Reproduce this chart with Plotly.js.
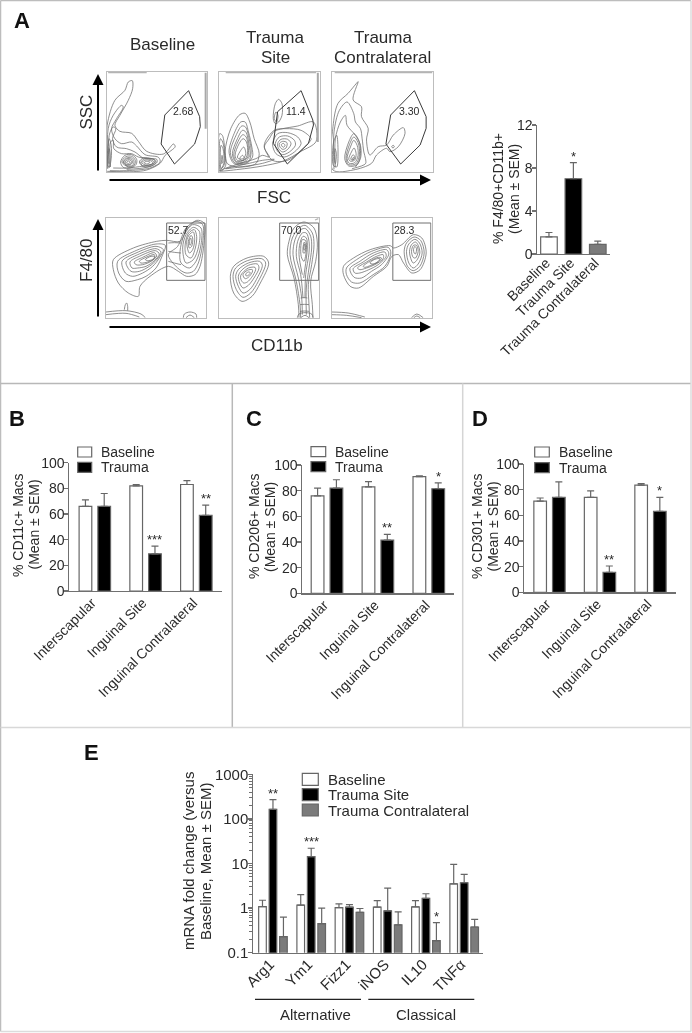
<!DOCTYPE html>
<html><head><meta charset="utf-8">
<script src="https://cdn.plot.ly/plotly-3.0.1.min.js"></script>
<style>html,body{margin:0;padding:0;background:#fff}#chart{filter:blur(0.35px)}</style></head>
<body><div id="chart" style="width:692px;height:1033px"></div>
<script>
// ---------- Bar data ----------
const catsA = ['Baseline','Trauma Site','Trauma Contralateral'];
const valsA = [1.6,7.0,0.9];
const errsA = [0.4,1.5,0.3];
const sigA  = ['','*',''];

const catsSites = ['Interscapular','Inguinal Site','Inguinal Contralateral'];
const baseB = [66,82,83];   const baseErrB = [5,1,3];
const traumaB = [66,29,59]; const traumaErrB = [10,6,8];
const sigB = ['','***','**'];
const baseC = [76,83,91];   const baseErrC = [6,4,0.5];
const traumaC = [82,41.5,81.5]; const traumaErrC = [6.5,4.5,4.5];
const sigC = ['','**','*'];
const baseD = [71,74,83.5]; const baseErrD = [2.5,5,1.2];
const traumaD = [74,15.5,63]; const traumaErrD = [12,5,11];
const sigD = ['','**','*'];

const catsE = ['Arg1','Ym1','Fizz1','iNOS','IL10','TNFα'];
const baseE = [1.08,1.17,1.02,1.05,1.06,3.5];
const baseErrE = [0.42,0.83,0.22,0.42,0.41,6.1];
const siteE = [164,14.2,1.05,0.87,1.66,3.7];
const siteErrE = [106,7.8,0.15,1.93,0.44,2.0];
const contraE = [0.23,0.45,0.80,0.42,0.186,0.377];
const contraErrE = [0.40,0.55,0.18,0.40,0.284,0.183];
const sigSiteE = ['**','***','','','',''];
const sigContraE = ['','','','','*',''];

// ---------- Flow cytometry outlines (panel units 0-300) ----------
const gateSSC1 = [245,244,278,166,280,136,263,84,203,24,163,84,174,171,245,244];
const gateSSC2 = [245,244,280,156,282,141,267,86,204,24,162,86,175,181,245,244];
const gateSSC3 = [246,244,281,166,281,131,263,81,205,24,161,84,175,171,246,244];
const gateF1 = [182,113,297,113,297,285,182,285,182,113];
const gateF2 = [182,113,299,113,299,285,182,285,182,113];
const gateF3 = [184,113,298,113,298,285,184,285,184,113];
const gateLabels = ['2.68','11.4','3.30','52.7','70.0','28.3'];
const gateLabelX = [230,230,230,217,217,219];
const gateLabelY = [184,184,184,265,265,265];

const bandsSSC1 = [[5,298,120,298],[296,130,296,298]];
const bandsSSC2 = [[20,298,290,298],[295,90,295,298]];
const bandsSSC3 = [[8,298,300,298]];
const bandsF2 = [[288,294,298,298]];

const ringsSSC1 = [
 [2,10,2,140,25,215,55,245,65,270,77,274,78,250,65,215,40,170,25,140,40,122,75,116,95,92,120,62,170,54,200,84,205,76,175,50,160,26,120,6,80,1,2,2],
 [4,10,5,130,20,170,45,200,50,195,30,160,15,130,25,100,45,85,75,90,90,78,115,52,155,44,160,30,130,12,60,4,10,4],
 [8,12,8,110,20,135,28,130,18,100,30,75,60,70,85,60,110,42,150,38,150,28,120,14,60,8],
 [12,15,12,90,20,95,22,70,45,55,75,55,95,45,145,36,140,26,110,18,60,12,20,12],
 [42,30,55,50,75,52,90,38,88,22,70,12,50,14,42,30],
 [46,30,58,46,75,47,86,35,83,21,66,15,46,30],
 [50,30,60,42,75,42,82,32,78,20,62,18,50,30],
 [52,30,62,40,74,38,78,30,72,22,60,21,52,30],
 [56,30,65,37,74,33,72,24,60,23,56,30],
 [60,29,66,33,70,29,66,25,60,29],
 [98,30,110,42,135,40,148,30,135,18,110,16,98,30],
 [102,29,114,39,135,36,143,28,128,19,108,19,102,29],
 [105,28,118,36,135,32,138,26,120,20,105,28],
 [112,28,120,32,130,29,120,24,112,28],
 [3,20,3,60,8,100,14,80,14,40,8,15,3,20],
 [5,30,8,70,11,50,8,25,5,30]
];
const ringsSSC2 = [
 [135,80,165,125,200,130,245,125,275,100,270,90,245,65,205,35,160,35,135,80],
 [160,85,175,115,205,118,235,105,245,85,225,60,195,45,170,55,160,85],
 [168,85,180,105,205,108,225,95,228,80,210,60,190,52,175,62,168,85],
 [175,85,185,98,205,98,215,85,205,68,190,60,178,70,175,85],
 [180,85,190,92,203,88,200,72,190,68,182,75,180,85],
 [186,82,192,86,197,80,192,74,186,82],
 [162,160,168,205,178,218,188,205,188,170,178,150,168,145,162,160],
 [165,160,170,180,176,170,172,150,165,160],
 [18,60,35,130,62,172,78,176,92,150,105,100,120,55,110,25,60,15,25,25,18,60],
 [30,60,45,115,65,150,78,150,88,120,98,75,100,45,80,25,45,25,30,60],
 [34,58,50,108,68,138,79,135,90,100,96,60,88,32,48,27,34,58],
 [40,55,55,100,70,125,80,120,90,80,92,50,75,30,50,30,40,55],
 [44,52,57,92,71,112,81,105,88,65,84,42,52,32,44,52],
 [48,50,60,85,72,100,82,90,85,55,75,35,55,35,48,50],
 [55,45,65,65,74,75,80,55,72,40,58,40,55,45],
 [62,40,70,50,76,42,68,34,62,40],
 [2,5,2,115,10,110,18,60,20,20,10,5,2,5],
 [4,8,4,100,11,90,17,50,15,20,4,8],
 [6,10,6,80,12,70,14,25,6,10],
 [8,25,9,50,11,30,8,25],
 [1,3,60,8,130,18,190,32,245,62,290,92,282,150,235,138,190,130,165,122,150,100,135,75,150,45,130,50,110,40,60,25,1,3],
 [20,10,70,16,130,26,165,38,130,35,90,26,20,10]
];
const ringsSSC3 = [
 [3,6,3,136,18,206,48,236,73,266,78,271,63,216,88,196,88,166,108,131,103,96,113,51,138,76,163,81,183,111,213,133,218,116,198,76,173,61,163,71,133,51,118,26,63,6,3,6],
 [6,8,6,120,22,185,45,210,65,175,70,150,85,130,90,100,95,60,100,40,100,25,60,10],
 [10,15,10,100,25,150,40,170,45,140,70,110,85,80,85,40,70,15],
 [38,40,50,90,65,115,80,95,85,55,75,22,50,18,38,40],
 [42,40,52,82,65,105,78,88,82,52,72,25,50,22,42,40],
 [45,40,55,75,65,95,75,80,78,50,68,28,52,26,45,40],
 [50,38,58,60,66,72,72,55,68,36,56,32,50,38],
 [56,38,63,52,68,45,62,36,56,38],
 [60,38,64,44,66,40,62,36,60,38],
 [4,20,5,90,14,110,18,60,14,15,4,20],
 [8,30,9,70,13,55,10,25,8,30],
 [178,76,183,80,186,76,182,72,178,76]
];
const ringsF1 = [
 [22,175,82,210,152,230,182,233,222,230,242,265,272,293,294,285,294,225,282,155,267,130,242,125,217,140,187,155,132,125,102,95,97,65,67,75,37,105,22,145,22,175],
 [35,170,85,200,150,222,178,218,170,190,150,150,120,125,95,115,60,110,38,135,35,170],
 [48,170,90,195,150,215,172,205,160,180,140,155,110,135,80,125,58,135,48,170],
 [60,168,95,190,150,208,165,198,152,175,130,155,100,140,75,140,60,168],
 [72,168,100,185,148,202,160,192,145,172,120,155,95,150,78,150,72,168],
 [85,168,110,182,145,196,152,186,135,170,110,160,90,160,85,168],
 [100,170,120,182,145,190,145,178,125,168,105,165,100,170],
 [118,175,135,185,146,184,140,176,125,172,118,175],
 [187,190,215,215,240,270,270,290,290,280,290,225,277,165,262,140,240,135,215,150,187,190],
 [222,200,235,250,260,280,285,270,285,220,270,170,250,150,225,165,222,200],
 [230,210,240,250,262,272,280,260,278,215,262,175,240,165,230,210],
 [238,225,248,255,265,265,272,245,268,210,255,180,240,190,238,225],
 [242,230,250,250,262,258,266,235,260,205,250,195,242,230],
 [247,230,255,248,260,240,257,215,250,210,247,230],
 [250,232,254,240,256,225,252,218,250,232],
 [187,225,205,226,225,225],
 [187,200,205,197,225,195],
 [187,170,205,165,225,160],
 [0,18,60,22,105,12,118,1],
 [0,10,60,14,100,3],
 [55,25,58,40,62,45,65,35,65,22],
 [232,1,235,12,252,18,270,12,272,1],
 [240,1,252,9,265,1]
];
const ringsF2 = [
 [34,125,44,155,84,180,134,185,149,165,124,105,99,65,69,50,44,75,34,125],
 [42,125,50,150,85,172,128,178,140,165,118,110,95,75,72,62,52,85,42,125],
 [50,125,58,145,88,165,122,170,130,158,112,115,92,85,72,75,58,95,50,125],
 [58,125,65,140,88,158,115,162,120,150,105,120,88,98,72,90,62,105,58,125],
 [65,127,72,137,88,150,108,152,110,145,98,122,85,108,74,105,66,115,65,127],
 [72,130,85,143,100,145,100,138,88,122,78,118,72,130],
 [80,132,88,138,94,136,88,128,82,126,80,132],
 [240,1,238,40,225,120,205,190,210,230,225,270,255,288,285,270,295,225,290,170,275,110,280,40,282,1],
 [245,1,243,40,232,110,213,190,220,240,240,270,258,278,280,255,285,220,278,160,268,100,270,40,272,1],
 [250,10,248,60,238,120,222,190,228,235,245,265,260,268,275,245,278,210,270,150,262,90,262,10],
 [252,60,245,130,232,185,236,230,250,255,262,255,270,230,270,195,260,130,258,60],
 [250,130,240,190,243,225,252,245,262,240,265,210,258,150,254,120],
 [245,205,250,235,260,232,262,205,255,170,248,180,245,205],
 [252,210,256,228,260,218,257,195,253,195,252,210],
 [254,212,257,222,258,208,255,203,254,212],
 [245,60,255,61,265,60],
 [243,40,257,41,270,40],
 [243,20,257,21,270,20],
 [235,1,240,12,258,16,278,12,282,1],
 [245,1,258,8,270,1]
];
const ringsF3 = [
 [36,155,66,180,116,205,176,217,186,210,211,220,246,250,271,240,284,195,266,145,241,135,216,165,201,190,181,185,166,155,126,125,81,90,56,95,36,130,36,155],
 [45,150,75,175,120,200,170,212,178,195,160,155,125,130,85,105,60,108,45,130,45,150],
 [55,148,85,170,125,195,165,205,172,192,150,160,120,140,90,120,68,122,55,148],
 [65,148,95,168,130,190,160,198,164,185,140,160,112,145,85,135,70,135,65,148],
 [78,150,105,168,135,185,155,190,155,178,130,160,105,150,85,145,78,150],
 [95,155,118,172,140,182,150,180,140,168,118,158,100,152,95,155],
 [115,165,130,176,145,178,140,170,125,162,115,165],
 [218,200,225,225,248,243,268,232,278,195,265,155,245,142,228,155,218,200],
 [225,200,232,222,250,236,264,225,272,195,260,162,245,150,232,165,225,200],
 [234,200,240,220,252,228,260,218,265,195,255,172,245,165,238,178,234,200],
 [240,200,246,218,255,218,260,200,252,180,245,182,240,200],
 [246,205,250,215,255,208,252,192,248,195,246,205],
 [0,18,50,15,100,3],
 [0,10,45,8,90,1],
 [240,1,256,12,275,1],
 [247,1,256,6,266,1]
];

// ---------- Page geometry helpers ----------
const W = 692, H = 1033;
const TXT = '#2a2a2a', AX = '#707070', FONT = 'Liberation Sans, Arial, sans-serif';
const px = v => v / W, py = v => 1 - v / H;
const layout = {
  width: W, height: H, margin: {l:0,r:0,t:0,b:0}, showlegend: false,
  paper_bgcolor: '#fff', plot_bgcolor: 'rgba(0,0,0,0)', font: {family: FONT, color: TXT},
  barmode: 'overlay', shapes: [], annotations: []
};
const traces = [];
const note = (text, x, y, size, extra) => layout.annotations.push(Object.assign(
  {text, x, y, xref:'paper', yref:'paper', showarrow:false, xanchor:'center', yanchor:'middle',
   font:{size, family:FONT, color:TXT}}, extra || {}, {x: px(x), y: py(y)}));
const rule = (x0,y0,x1,y1,color,width) => layout.shapes.push({type:'line',xref:'paper',yref:'paper',
  x0:px(x0),x1:px(x1),y0:py(y0),y1:py(y1),line:{color,width}});
const arrow = (x0,y0,x1,y1) => layout.annotations.push({text:'',xref:'paper',yref:'paper',axref:'pixel',ayref:'pixel',
  x:px(x1),y:py(y1),ax:x0-x1,ay:y0-y1,showarrow:true,arrowhead:2,arrowsize:1.1,arrowwidth:2,arrowcolor:'#000',standoff:0,startstandoff:0});
const swatch = (x0,y0,x1,y1,fill) => layout.shapes.push({type:'rect',xref:'paper',yref:'paper',
  x0:px(x0),x1:px(x1),y0:py(y0),y1:py(y1),fillcolor:fill,line:{color:'#666',width:1.2}});

// ---------- Panel frames ----------
[[0.5,0.5,691,0.5,'#bdbdbd'],[0.5,0.5,0.5,1031.5,'#bdbdbd'],[0.5,383.5,691,383.5,'#b8b8b8'],
 [232.3,383.5,232.3,727.5,'#b8b8b8'],[462.7,383.5,462.7,727.5,'#d5d5d5'],[0.5,727.5,691,727.5,'#d8d8d8'],
 [691,0.5,691,1031.5,'#dcdcdc'],[0.5,1031.5,691,1031.5,'#dcdcdc']].forEach(r=>rule(r[0],r[1],r[2],r[3],r[4],1.5));

// ---------- Cytometry panels ----------
function pairs(flat){const x=[],y=[];for(let i=0;i<flat.length;i+=2){x.push(flat[i]);y.push(flat[i+1]);}return {x,y};}
let axisN = 0;
function addAxes(l,r,t,b,xa,ya){
  axisN++;
  const sfx = axisN===1?'':axisN;
  layout['xaxis'+sfx] = Object.assign({domain:[px(l),px(r)],anchor:'y'+sfx,fixedrange:true,zeroline:false,showgrid:false},xa);
  layout['yaxis'+sfx] = Object.assign({domain:[py(b),py(t)],anchor:'x'+sfx,fixedrange:true,zeroline:false,showgrid:false},ya);
  return {x:'x'+sfx,y:'y'+sfx};
}
const flowAxis = {range:[0,300],showline:true,mirror:true,linecolor:'#bdbdbd',linewidth:1,ticks:'',showticklabels:false};
const flowPanels = [
 {box:[106.5,207,72,172],rings:ringsSSC1,gate:gateSSC1,bands:bandsSSC1},
 {box:[219,319.5,72,172],rings:ringsSSC2,gate:gateSSC2,bands:bandsSSC2},
 {box:[332,432.5,72,172],rings:ringsSSC3,gate:gateSSC3,bands:bandsSSC3},
 {box:[106,206,218,318],rings:ringsF1,gate:gateF1,bands:[]},
 {box:[219,319,218,318],rings:ringsF2,gate:gateF2,bands:bandsF2},
 {box:[331.5,431.5,218,318],rings:ringsF3,gate:gateF3,bands:[]}
];
flowPanels.forEach((p,i)=>{
  const a = addAxes(p.box[0],p.box[1],p.box[2],p.box[3],flowAxis,flowAxis);
  const xs=[],ys=[];
  p.rings.forEach(r=>{const q=pairs(r);xs.push(...q.x,null);ys.push(...q.y,null);});
  traces.push({type:'scatter',mode:'lines',x:xs,y:ys,xaxis:a.x,yaxis:a.y,hoverinfo:'skip',
    line:{color:'#6a6a6a',width:0.75,shape:'spline',smoothing:0.9}});
  p.bands.forEach(bd=>{const q=pairs(bd);
    const vertical = q.x[0]===q.x[1];
    traces.push({type:'scatter',mode:'lines',x:q.x,y:q.y,xaxis:a.x,yaxis:a.y,hoverinfo:'skip',
    line:{color:vertical?'#a8a8a8':'#b4b4b4',width:vertical?2:1.2}});});
  const g=pairs(p.gate);
  traces.push({type:'scatter',mode:'lines',x:g.x,y:g.y,xaxis:a.x,yaxis:a.y,hoverinfo:'skip',
    line:{color:i<3?'#3a3a3a':'#707070',width:1}});
  layout.annotations.push({text:gateLabels[i],x:gateLabelX[i],y:gateLabelY[i],xref:a.x,yref:a.y,showarrow:false,
    font:{size:10.5,family:FONT,color:TXT}});
});
note('Baseline',162,45,17);
note('Trauma',275,37.7,17); note('Site',275,57.7,17);
note('Trauma',382.7,37.7,17); note('Contralateral',382.7,57.7,17);
note('SSC',87,112.6,17,{textangle:-90}); note('FSC',274,197,17);
note('F4/80',87,261,17,{textangle:-90}); note('CD11b',277,345,17);
arrow(98,172,98,74); arrow(108,180,431,180);
arrow(98,318,98,219); arrow(108,327,431,327);

// ---------- Bar panels ----------
const GREY='#7b7b7b', EDGE='#666';
function barAxes(box,xr,yax,tickSize,catSize,cats,shift,standoff){
  return addAxes(box[0],box[1],box[2],box[3],
    Object.assign({type:'category',categoryorder:'array',categoryarray:cats,range:xr,showline:true,linecolor:AX,linewidth:1.2,ticks:'',
      tickangle:-45,ticklabelshift:shift,ticklabelstandoff:standoff,tickfont:{size:catSize,family:FONT,color:TXT}}),
    Object.assign({showline:true,linecolor:AX,linewidth:1.2,ticks:'outside',ticklen:3.5,tickcolor:AX,tickwidth:1.2,
      ticklabelstandoff:-3,tickfont:{size:tickSize,family:FONT,color:TXT}},yax));
}
function barTrace(a,cats,vals,errs,color,width,offset){
  return {type:'bar',x:cats,y:vals,xaxis:a.x,yaxis:a.y,width,offset,hoverinfo:'x+y',
    marker:{color,line:{color:EDGE,width:1.2}},cliponaxis:false,
    error_y:{type:'data',array:errs,arrayminus:cats.map(()=>0),symmetric:false,color:EDGE,thickness:1.2,width:3.5}};
}
function stars(a,sig,vals,errs,off,size,shift,isLog){
  sig.forEach((s,i)=>{ if(!s) return;
    const top=vals[i]+errs[i];
    layout.annotations.push({text:s,x:i+off,y:isLog?Math.log10(top):top,xref:a.x,yref:a.y,showarrow:false,
      yanchor:'bottom',yshift:shift,font:{size,family:FONT,color:TXT}});
  });
}
function yTitles(line1,line2,x1,x2,yc,size){
  note(line1,x1,yc,size,{textangle:-90}); note(line2,x2,yc,size,{textangle:-90});
}

// A bars
const aA = barAxes([537,610,125,254],[-0.49,2.5],{range:[0,12],tickvals:[0,4,8,12]},14,14,catsA,-3,-6);
traces.push(barTrace(aA,catsA,valsA,errsA,['#fff','#000',GREY],0.68,-0.34));
stars(aA,sigA,valsA,errsA,0,13,-3);
yTitles('% F4/80+CD11b+','(Mean ± SEM)',498,514,189,14);

// B, C, D bars
const groupPanels = [
 {box:[69,221.7,462.7,591],xr:[-0.509,2.5],base:baseB,be:baseErrB,tr:traumaB,te:traumaErrB,sig:sigB,
  t:'% CD11c+ Macs',tx:[18,33.5],ty:525,sw:[77.7,91.7],txt:99.3,ly:[452,467.3]},
 {box:[302,454,465,593.3],xr:[-0.491,2.495],base:baseC,be:baseErrC,tr:traumaC,te:traumaErrC,sig:sigC,
  t:'% CD206+ Macs',tx:[254,270],ty:527,sw:[311,325.7],txt:333.3,ly:[451.7,466.7]},
 {box:[524,676,464,592.3],xr:[-0.505,2.505],base:baseD,be:baseErrD,tr:traumaD,te:traumaErrD,sig:sigD,
  t:'% CD301+ Macs',tx:[477,492.5],ty:527,sw:[534.7,549.3],txt:556.7,ly:[452,467.7]}
];
groupPanels.forEach(p=>{
  const a=barAxes(p.box,p.xr,{range:[0,100],tickvals:[0,20,40,60,80,100]},14,14,catsSites,-3,-3);
  traces.push(barTrace(a,catsSites,p.base,p.be,'#fff',0.25,-0.31));
  traces.push(barTrace(a,catsSites,p.tr,p.te,'#000',0.25,0.06));
  stars(a,p.sig,p.tr,p.te,0.185,13,-3);
  yTitles(p.t,'(Mean ± SEM)',p.tx[0],p.tx[1],p.ty,14);
  swatch(p.sw[0],p.ly[0]-5,p.sw[1],p.ly[0]+5,'#fff'); swatch(p.sw[0],p.ly[1]-5,p.sw[1],p.ly[1]+5,'#000');
  note('Baseline',p.txt,p.ly[0],14,{xanchor:'left'}); note('Trauma',p.txt,p.ly[1],14,{xanchor:'left'});
});

// E bars
const aE = barAxes([253,483.3,774.3,952.7],[-0.522,5.5],
  {type:'log',range:[-1,3],tickvals:[0.1,1,10,100,1000],ticktext:['0.1','1','10','100','1000'],
   minor:{ticks:'outside',ticklen:2.5,tickcolor:AX,tickwidth:1,dtick:'D1',showgrid:false}},15,15,catsE,-3,-4);
traces.push(barTrace(aE,catsE,baseE,baseErrE,'#fff',0.2,-0.374));
traces.push(barTrace(aE,catsE,siteE,siteErrE,'#000',0.2,-0.1));
traces.push(barTrace(aE,catsE,contraE,contraErrE,GREY,0.2,0.174));
stars(aE,sigSiteE,siteE,siteErrE,0,13,-3,true);
stars(aE,sigContraE,contraE,contraErrE,0.274,13,-3,true);
yTitles('mRNA fold change (versus','Baseline, Mean ± SEM)',188,205,861,15);
[['Baseline','#fff',779.3],['Trauma Site','#000',794.7],['Trauma Contralateral',GREY,810]].forEach(r=>{
  swatch(302.3,r[2]-6,318.3,r[2]+6,r[1]); note(r[0],326,r[2],15,{xanchor:'left'});
});
rule(255,999.3,361,999.3,'#222',1.2); rule(368.3,999.3,474.3,999.3,'#222',1.2);
note('Alternative',315.7,1014,15); note('Classical',426,1014,15);

// Panel letters
[['A',22,20],['B',17,418],['C',254,418],['D',480,418],['E',92,752]].forEach(l=>
  note('<b>'+l[0]+'</b>',l[1],l[2],22,{font:{size:22,family:FONT,color:'#111'}}));

Plotly.newPlot('chart',traces,layout,{displayModeBar:false,staticPlot:true});
</script></body></html>
